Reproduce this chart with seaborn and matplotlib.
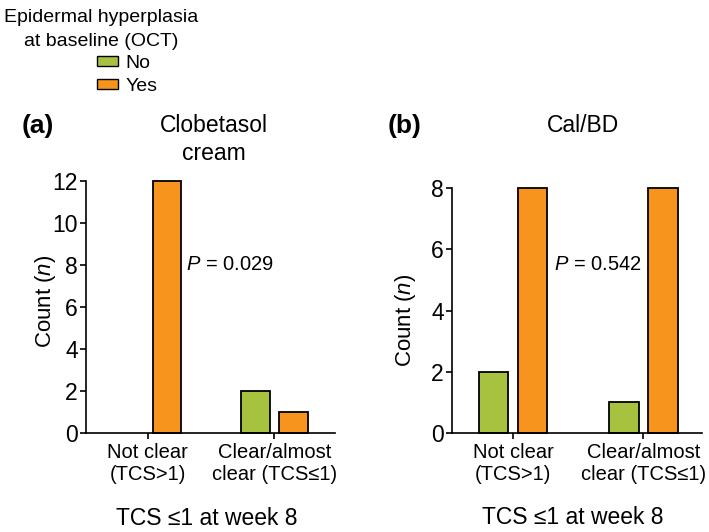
import pandas as pd
import seaborn as sns
import matplotlib.pyplot as plt

# counts
categories = ["Not clear\n(TCS>1)", "Clear/almost\nclear (TCS\u22641)"]
groups = ["No", "Yes"]
clob_no = [0, 2]
clob_yes = [12, 1]
calbd_no = [2, 1]
calbd_yes = [8, 8]
p_values = ["0.029", "0.542"]
panel_titles = ["Clobetasol\ncream", "Cal/BD"]
panel_letters = ["(a)", "(b)"]
y_max = [12, 8]
y_ticks = [[0, 2, 4, 6, 8, 10, 12], [0, 2, 4, 6, 8]]

colors = {"No": "#a7c23f", "Yes": "#f7941e"}

def make_df(no, yes):
    rows = []
    for cat, n, y in zip(categories, no, yes):
        rows.append({"category": cat, "group": "No", "count": n})
        rows.append({"category": cat, "group": "Yes", "count": y})
    return pd.DataFrame(rows)

sns.set_theme(style="ticks")
plt.rcParams["font.family"] = ["Liberation Sans", "DejaVu Sans"]
plt.rcParams["mathtext.fontset"] = "custom"
plt.rcParams["mathtext.rm"] = "Liberation Sans"
plt.rcParams["mathtext.it"] = "Liberation Sans:italic"
for key in ["text.color", "axes.labelcolor", "xtick.color", "ytick.color", "axes.edgecolor"]:
    plt.rcParams[key] = "black"

fig = plt.figure(figsize=(7.09, 5.32), dpi=100)
ax_a = fig.add_axes([86 / 709, 99 / 532, 249 / 709, 252 / 532])
ax_b = fig.add_axes([452 / 709, 99 / 532, 250 / 709, 245 / 532])

data = [make_df(clob_no, clob_yes), make_df(calbd_no, calbd_yes)]
xlims = [(-0.49, 1.48), (-0.47, 1.45)]
p_pos = [(0.30, 8.0), (0.31, 5.5)]
ylab_coords = [(-0.113, 0.524), (-0.136, 0.46)]
xlab_coords = [(0.486, -0.293), (0.484, -0.30)]

for i, ax in enumerate([ax_a, ax_b]):
    sns.barplot(data=data[i], x="category", y="count", hue="group",
                hue_order=groups, palette=colors, saturation=1,
                width=0.6, gap=0.25, edgecolor="black", linewidth=1.3,
                legend=False, ax=ax)
    ax.set_xlim(*xlims[i])
    ax.set_ylim(0, y_max[i])
    ax.set_yticks(y_ticks[i])
    ax.tick_params(axis="y", labelsize=16.5, length=4, width=1.2, pad=2)
    ax.tick_params(axis="x", labelsize=14.5, length=4, width=1.2, pad=3)
    for s in ["top", "right"]:
        ax.spines[s].set_visible(False)
    for s in ["left", "bottom"]:
        ax.spines[s].set_linewidth(1.2)
    ax.set_xlabel("TCS \u22641 at week 8", fontsize=16.5, va="top")
    ax.xaxis.set_label_coords(*xlab_coords[i])
    ax.set_ylabel("Count ($\\it{n}$)", fontsize=16)
    ax.yaxis.set_label_coords(*ylab_coords[i])
    ax.text(p_pos[i][0], p_pos[i][1], "$\\it{P}$ = " + p_values[i],
            fontsize=14.5, ha="left", va="center")
    for patch in ax.patches:
        patch.set_clip_on(False)
        if patch.get_height() == 0:
            patch.set_visible(False)

# panel titles and letters
title_a = panel_titles[0].split("\n")
fig.text(214 / 709, 1 - 125 / 532, title_a[0], fontsize=16.5, ha="center", va="center")
fig.text(214 / 709, 1 - 153 / 532, title_a[1], fontsize=16.5, ha="center", va="center")
fig.text(583 / 709, 1 - 125 / 532, panel_titles[1], fontsize=16.5, ha="center", va="center")
fig.text(22 / 709, 1 - 126 / 532, panel_letters[0], fontsize=19, fontweight="bold", ha="left", va="center")
fig.text(388 / 709, 1 - 126 / 532, panel_letters[1], fontsize=19, fontweight="bold", ha="left", va="center")

# legend
fig.text(101 / 709, 1 - 17 / 532, "Epidermal hyperplasia", fontsize=14, ha="center", va="center")
fig.text(101 / 709, 1 - 42 / 532, "at baseline (OCT)", fontsize=14, ha="center", va="center")
handles = [plt.Rectangle((0, 0), 1, 1, facecolor=colors[g], edgecolor="black", linewidth=1.0)
           for g in groups]
fig.legend(handles, groups, loc="upper left", bbox_to_anchor=(97 / 709, 1 - 55 / 532),
           frameon=False, fontsize=14, handlelength=1.1, handleheight=0.45,
           handletextpad=0.35, labelspacing=0.3, borderpad=0, borderaxespad=0)

fig.savefig("out.png", dpi=100)
